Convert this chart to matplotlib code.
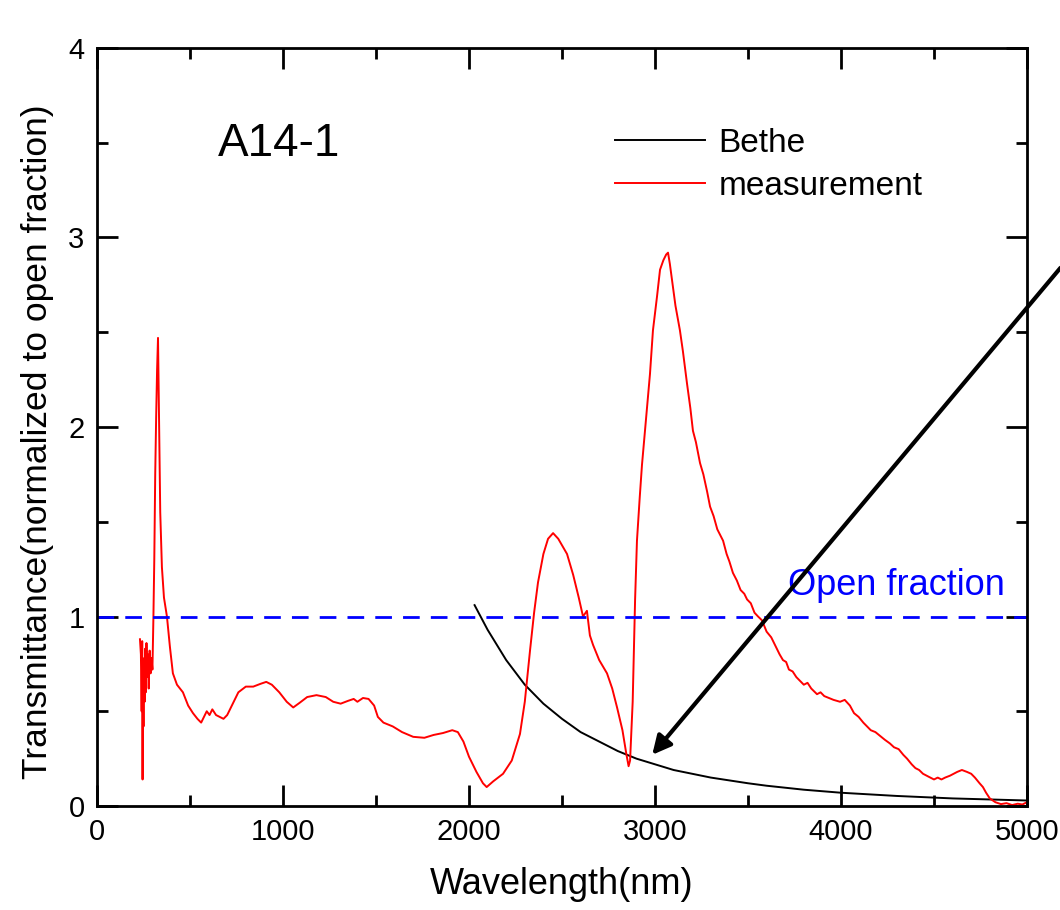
""" Transmittance of sample A14-1 vs Bethe prediction """
import matplotlib
matplotlib.use('Agg')
import matplotlib.pyplot as plt
from matplotlib.ticker import MultipleLocator

plt.rcParams['font.family'] = ['Liberation Sans', 'DejaVu Sans']

measurement = [
    (231, 0.88), (236, 0.80), (240, 0.50), (243, 0.87), (245, 0.14), (247, 0.72),
    (250, 0.42), (253, 0.78), (256, 0.55), (259, 0.83), (262, 0.60), (266, 0.86),
    (270, 0.68), (274, 0.80), (278, 0.62), (283, 0.82), (288, 0.70), (293, 0.78),
    (298, 0.72), (303, 0.98), (308, 1.30), (313, 1.75), (318, 2.05), (323, 2.30),
    (328, 2.47), (333, 2.10), (340, 1.55), (349, 1.26), (360, 1.10), (376, 1.00),
    (392, 0.84), (408, 0.70), (430, 0.64), (462, 0.60), (490, 0.53), (516, 0.49),
    (540, 0.46), (560, 0.44), (575, 0.47), (590, 0.50), (605, 0.48), (620, 0.51),
    (640, 0.48), (660, 0.47), (680, 0.46), (700, 0.48), (730, 0.54), (760, 0.60),
    (800, 0.63), (840, 0.63), (880, 0.645), (910, 0.655), (940, 0.64), (980, 0.60),
    (1020, 0.55), (1055, 0.52), (1090, 0.545), (1130, 0.575), (1180, 0.585),
    (1230, 0.575), (1270, 0.55), (1310, 0.54), (1350, 0.555), (1380, 0.565),
    (1400, 0.55), (1430, 0.57), (1460, 0.565), (1490, 0.53), (1510, 0.47),
    (1540, 0.44), (1590, 0.42), (1640, 0.39), (1700, 0.365), (1760, 0.36),
    (1810, 0.375), (1860, 0.385), (1910, 0.40), (1940, 0.39), (1970, 0.34),
    (2000, 0.26), (2040, 0.18), (2075, 0.12), (2095, 0.10), (2130, 0.13),
    (2183, 0.17), (2230, 0.24), (2274, 0.38), (2300, 0.55), (2328, 0.82),
    (2350, 1.02), (2371, 1.18), (2400, 1.33), (2425, 1.41), (2452, 1.44),
    (2480, 1.41), (2527, 1.33), (2560, 1.22), (2590, 1.10), (2613, 1.00),
    (2634, 1.03), (2650, 0.90), (2667, 0.85), (2700, 0.77), (2742, 0.70),
    (2770, 0.62), (2796, 0.52), (2825, 0.40), (2845, 0.28), (2858, 0.21),
    (2866, 0.24), (2880, 0.55), (2893, 1.09), (2903, 1.40), (2918, 1.63),
    (2930, 1.80), (2946, 1.98), (2973, 2.28), (2989, 2.51), (3011, 2.69),
    (3027, 2.83), (3045, 2.88), (3060, 2.91), (3070, 2.92), (3080, 2.86),
    (3091, 2.78), (3110, 2.64), (3134, 2.51), (3150, 2.40), (3172, 2.23),
    (3190, 2.10), (3204, 1.98), (3220, 1.92), (3242, 1.81), (3260, 1.75),
    (3280, 1.66), (3296, 1.58), (3315, 1.53), (3335, 1.46), (3366, 1.40),
    (3385, 1.33), (3400, 1.29), (3419, 1.23), (3440, 1.19), (3460, 1.14),
    (3480, 1.12), (3495, 1.09), (3515, 1.07), (3535, 1.02), (3554, 1.00),
    (3575, 0.98), (3600, 0.92), (3625, 0.89), (3650, 0.84), (3670, 0.80),
    (3688, 0.77), (3705, 0.76), (3720, 0.72), (3740, 0.71), (3760, 0.68),
    (3780, 0.66), (3800, 0.64), (3820, 0.65), (3840, 0.62), (3871, 0.59),
    (3890, 0.60), (3910, 0.58), (3935, 0.57), (3960, 0.56), (3995, 0.55),
    (4020, 0.56), (4048, 0.53), (4070, 0.49), (4095, 0.47), (4120, 0.44),
    (4140, 0.42), (4160, 0.40), (4185, 0.39), (4210, 0.37), (4235, 0.35),
    (4263, 0.33), (4285, 0.31), (4310, 0.30), (4335, 0.27), (4355, 0.25),
    (4380, 0.22), (4400, 0.20), (4420, 0.19), (4441, 0.17), (4460, 0.16),
    (4480, 0.15), (4500, 0.14), (4520, 0.15), (4540, 0.14), (4560, 0.15),
    (4586, 0.16), (4605, 0.17), (4625, 0.18), (4650, 0.19), (4677, 0.18),
    (4700, 0.17), (4720, 0.15), (4745, 0.12), (4763, 0.10), (4780, 0.07),
    (4800, 0.04), (4830, 0.02), (4860, 0.01), (4890, 0.015), (4920, 0.005),
    (4950, 0.012), (4975, 0.008), (5000, 0.02),
]
meas_wl = [p[0] for p in measurement]
meas_t = [p[1] for p in measurement]

# Bethe prediction
bethe_wl = [2030, 2100, 2200, 2300, 2400, 2500, 2600, 2700, 2800, 2900, 3000, 3100,
            3200, 3300, 3400, 3500, 3600, 3800, 4000, 4300, 4600, 5000]
bethe_t = [1.06, 0.93, 0.77, 0.64, 0.54, 0.46, 0.39, 0.34, 0.29, 0.25, 0.22, 0.19,
           0.17, 0.15, 0.135, 0.12, 0.107, 0.086, 0.070, 0.053, 0.040, 0.029]

open_fraction = 1.0

fig = plt.figure(figsize=(10.6, 9.1), dpi=100)
ax = fig.add_axes([97 / 1060, 1 - 806 / 910, 930 / 1060, 758 / 910])

ax.plot(bethe_wl, bethe_t, color='black', lw=1.4, label='Bethe')
ax.plot(meas_wl, meas_t, color='red', lw=1.4, label='measurement')
ax.axhline(open_fraction, color='blue', lw=2, ls=(0, (6, 4)))

ax.set_xlim(0, 5000)
ax.set_ylim(0, 4)
ax.xaxis.set_major_locator(MultipleLocator(1000))
ax.xaxis.set_minor_locator(MultipleLocator(500))
ax.yaxis.set_major_locator(MultipleLocator(1))
ax.yaxis.set_minor_locator(MultipleLocator(0.5))
ax.tick_params(which='both', direction='in', top=True, right=True, width=2,
               labelsize=21, pad=9)
ax.tick_params(which='major', length=15)
ax.tick_params(which='minor', length=8)
for sp in ax.spines.values():
    sp.set_linewidth(2)

ax.set_xlabel('Wavelength(nm)', fontsize=26, labelpad=15)
ax.set_ylabel('Transmittance(normalized to open fraction)', fontsize=25.5)
ax.yaxis.set_label_coords(-0.046, 0.48)

ax.text(650, 3.43, 'A14-1', fontsize=33, va='baseline', ha='left')
ax.text(4300, 1.165, 'Open fraction', fontsize=26, color='blue', ha='center', va='center')

ax.legend(loc='upper left', bbox_to_anchor=(0.557, 0.895), frameon=False, fontsize=24,
          handlelength=2.7, handletextpad=0.4, labelspacing=0.36, borderpad=0,
          borderaxespad=0)

ax.annotate('', xy=(2985, 0.27), xytext=(5180, 2.84), annotation_clip=False,
            arrowprops=dict(arrowstyle='-|>', lw=3, color='black', mutation_scale=28,
                            shrinkA=0, shrinkB=0))

fig.savefig('out.png', dpi=100)
